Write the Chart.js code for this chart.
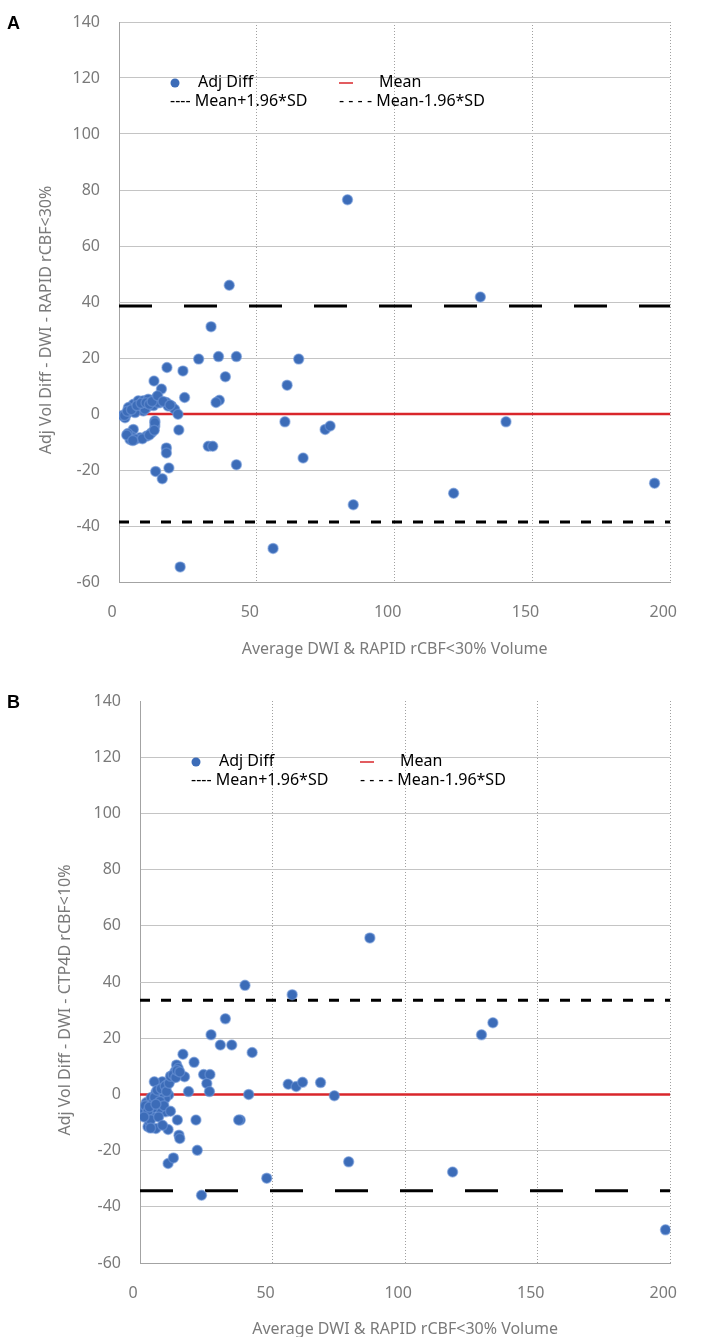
<!DOCTYPE html>
<html>
<head>
<meta charset="utf-8">
<script src="https://cdn.jsdelivr.net/npm/chart.js@4.4.0/dist/chart.umd.min.js"></script>
<style>
html, body { margin: 0; padding: 0; background: #fff; overflow: hidden; }
#page { position: relative; width: 705px; height: 1337px; overflow: hidden; }
.panel { position: absolute; left: 0; width: 705px; }
.tag { position: absolute; left: 7px; font: bold 18px "Liberation Sans", Arial, sans-serif; line-height: 18px; color: #000; }
</style>
</head>
<body>
<div id="page">
    <div class="panel" style="top:0;height:668px"><canvas id="chart-a" width="705" height="668"></canvas></div>
    <div class="panel" style="top:668px;height:690px"><canvas id="chart-b" width="705" height="690"></canvas></div>
    <div class="tag" style="top:14px">A</div>
    <div class="tag" style="top:693px">B</div>
</div>
<script>
// Bland-Altman style plots, panel A (RAPID) and panel B (CTP4D)

const xMin = 0, xMax = 200, xStep = 50;
const yMin = -60, yMax = 140, yStep = 20;

const xTitle = 'Average DWI & RAPID rCBF<30% Volume';
const yTitleA = 'Adj Vol Diff - DWI - RAPID rCBF<30%';
const yTitleB = 'Adj Vol Diff - DWI - CTP4D rCBF<10%';
const legendLabels = ['Adj Diff', 'Mean', '---- Mean+1.96*SD', '- - - - Mean-1.96*SD'];

// panel A: average volume (x) and adjusted difference (y)
const aAvg = [82.9, 40.0, 131.1, 33.4, 28.9, 36.1, 42.6, 65.2, 17.4, 23.2,
    38.6, 12.7, 61.0, 15.4, 23.8, 36.4, 35.2, 60.2, 140.4, 21.7,
    32.4, 34.0, 42.6, 66.8, 74.8, 76.6, 85.0, 121.4, 194.3, 55.9,
    22.2, 17.2, 17.2, 18.1, 13.3, 15.7, 2.2, 4.0, 7.6, 10.0,
    11.8, 13.0, 13.0, 5.2, 4.5, 4.0, 5.2, 7.0, 8.8, 10.0,
    8.8, 11.8, 13.6, 14.8, 17.2, 19.0, 20.2, 21.4, 2.8, 1.2,
    6.0, 9.5, 12.5, 3.2, 3.4, 10.6, 14.2, 17.8, 5.8, 9.4,
    13.0, 2.0, 3.0, 4.5, 6.5, 8.0, 9.8, 11.0, 12.0, 14.0,
    16.0, 18.5, 6.0, 8.5, 11.0, 12.8, 2.8, 5.0];
const aDiff = [76.5, 46.0, 41.8, 31.2, 19.6, 20.5, 20.5, 19.6, 16.6, 15.4,
    13.3, 11.8, 10.3, 8.9, 5.9, 4.9, 4.1, -2.8, -2.8, -5.7,
    -11.5, -11.5, -18.1, -15.7, -5.5, -4.3, -32.4, -28.3, -24.7, -48.0,
    -54.6, -12.1, -13.9, -19.3, -20.5, -23.1, -1.3, -9.1, -8.5, -7.9,
    -6.7, -4.3, -2.5, -5.5, -8.0, 2.3, 3.5, 4.7, 4.7, 2.3,
    1.1, 4.7, 5.9, 4.0, 4.1, 2.9, 1.7, -0.1, 0.0, -0.5,
    2.0, 3.5, 3.0, -7.0, 2.3, 5.3, 4.1, 2.9, 0.5, 1.7,
    -3.1, -0.5, 1.0, 1.5, 3.0, 3.8, 4.0, 3.5, 4.5, 6.5,
    4.5, 3.2, -9.0, -8.8, -7.5, -5.8, -7.5, -9.5];
const aMean = 0, aUpper = 38.6, aLower = -38.6;

// panel B
const bAvg = [86.7, 39.6, 57.4, 32.2, 128.8, 133.1, 26.8, 30.3, 34.6, 42.3,
    16.2, 20.4, 13.8, 24.0, 26.4, 25.2, 26.2, 16.8, 18.3, 41.0,
    37.8, 37.2, 21.1, 14.1, 14.7, 15.0, 21.6, 10.6, 12.6, 47.8,
    23.2, 68.1, 73.3, 55.9, 58.9, 61.3, 78.7, 117.9, 198.2, 1.2,
    3.0, 6.0, 10.6, 9.6, 4.2, 2.4, 4.2, 6.0, 7.2, 8.4,
    10.2, 10.8, 12.0, 13.2, 14.4, 6.6, 7.2, 4.8, 9.6, 8.4,
    3.6, 5.4, 2.4, 1.8, 2.0, 3.0, 4.0, 5.0, 5.5, 6.5,
    7.5, 8.0, 9.0, 9.5, 10.0, 11.0, 11.5, 12.5, 13.5, 14.0,
    15.0, 4.0, 7.0, 8.5, 11.5, 1.5, 3.5, 6.0];
const bDiff = [55.7, 38.8, 35.5, 26.9, 21.2, 25.5, 21.2, 17.6, 17.6, 14.9,
    14.3, 11.4, 10.5, 7.1, 7.1, 3.9, 1.0, 6.3, 1.0, 0.0,
    -9.1, -9.1, -9.1, -9.1, -14.5, -15.7, -19.9, -24.6, -22.6, -29.8,
    -35.9, 4.2, -0.5, 3.6, 2.8, 4.3, -24.0, -27.6, -48.2, -6.2,
    -11.5, -12.1, -12.5, -6.2, -7.4, -2.9, -1.1, 0.7, 3.4, 4.5,
    3.4, -0.2, 5.7, 8.1, 9.3, -1.4, -5.0, -4.8, -1.4, 0.7,
    -9.8, 4.5, -6.2, -6.2, -4.0, -6.0, -9.0, -3.0, -1.0, 1.5,
    -2.5, 2.0, -4.0, 3.0, 1.0, 4.0, 6.5, 7.0, 6.0, 8.5,
    8.0, -12.0, -8.0, -11.0, -6.0, -8.0, -4.5, -3.5];
const bMean = 0, bUpper = 33.5, bLower = -34.3;

const pointColor = '#3c6cb8';
const meanColor = '#d9262b';
const tickColor = '#7a7a7a';
const gridColor = '#c4c4c4';
const axisColor = '#a3a3a3';
const fontFamily = '"Noto Sans", sans-serif';

// draws the text legend and the rotated y title
const baLegend = {
    id: 'baLegend',
    afterDraw(chart, args, opts) {
        const { ctx, chartArea: ca } = chart;
        const x0 = ca.left, y0 = ca.top;
        ctx.save();
        ctx.font = '16px ' + fontFamily;
        ctx.textBaseline = 'middle';
        ctx.textAlign = 'left';

        ctx.beginPath();
        ctx.arc(x0 + 56, y0 + 61, 4.5, 0, Math.PI * 2);
        ctx.fillStyle = pointColor;
        ctx.fill();

        ctx.fillStyle = '#000';
        ctx.fillText(legendLabels[0], x0 + 79, y0 + 60);

        ctx.strokeStyle = meanColor;
        ctx.lineWidth = 1.5;
        ctx.beginPath();
        ctx.moveTo(x0 + 220, y0 + 61);
        ctx.lineTo(x0 + 234, y0 + 61);
        ctx.stroke();

        ctx.fillText(legendLabels[1], x0 + 260, y0 + 60);
        ctx.fillText(legendLabels[2], x0 + 51, y0 + 79.5);
        ctx.fillText(legendLabels[3], x0 + 220, y0 + 79);

        // y axis title
        ctx.translate(opts.titleX, opts.titleY);
        ctx.rotate(-Math.PI / 2);
        ctx.textAlign = 'center';
        ctx.fillStyle = tickColor;
        ctx.fillText(opts.yTitle, 0, 0);
        ctx.restore();
    }
};

function hline(v) {
    return [{ x: xMin, y: v }, { x: xMax, y: v }];
}

function buildChart(id, cfg) {
    const pts = cfg.avg.map((v, i) => ({ x: v, y: cfg.diff[i] }));
    const font = { family: fontFamily, size: 16 };
    const chart = new Chart(document.getElementById(id), {
        type: 'scatter',
        data: {
            datasets: [
                {
                    label: legendLabels[0],
                    data: pts,
                    backgroundColor: pointColor,
                    borderColor: 'rgba(110,150,215,0.55)',
                    borderWidth: 1.5,
                    pointRadius: 5,
                    pointHoverRadius: 5
                },
                {
                    label: legendLabels[1],
                    data: hline(cfg.mean),
                    showLine: true,
                    borderColor: meanColor,
                    borderWidth: 2.5,
                    pointRadius: 0
                },
                {
                    label: legendLabels[2],
                    data: hline(cfg.upper),
                    showLine: true,
                    borderColor: '#000',
                    borderWidth: 3,
                    borderDash: cfg.upperDash,
                    pointRadius: 0
                },
                {
                    label: legendLabels[3],
                    data: hline(cfg.lower),
                    showLine: true,
                    borderColor: '#000',
                    borderWidth: 3,
                    borderDash: cfg.lowerDash,
                    pointRadius: 0
                }
            ]
        },
        options: {
            responsive: false,
            animation: false,
            devicePixelRatio: 1,
            layout: { padding: Object.assign({}, cfg.padding) },
            plugins: {
                legend: { display: false },
                tooltip: { enabled: false },
                baLegend: { yTitle: cfg.yTitle, titleX: cfg.titleX, titleY: cfg.titleY }
            },
            scales: {
                x: {
                    type: 'linear',
                    min: xMin,
                    max: xMax,
                    ticks: { stepSize: xStep, color: tickColor, font: font, padding: 21, labelOffset: -7 },
                    grid: {
                        drawTicks: false,
                        lineWidth: 1,
                        color: (c) => c.tick && c.tick.value === xMin ? 'rgba(0,0,0,0)' : '#a0a0a0'
                    },
                    border: { display: true, color: axisColor, dash: [1, 2] },
                    title: { display: true, text: xTitle, color: tickColor, font: font, padding: { top: 4, bottom: 4 } },
                    afterFit: (s) => { s.height = cfg.xAxisH; }
                },
                y: {
                    type: 'linear',
                    min: yMin,
                    max: yMax,
                    ticks: { stepSize: yStep, color: tickColor, font: font, padding: 19 },
                    grid: {
                        drawTicks: false,
                        lineWidth: 1,
                        color: (c) => (cfg.hideTop && c.tick && c.tick.value === yMax) ? 'rgba(0,0,0,0)' : gridColor
                    },
                    border: { display: true, color: axisColor },
                    afterFit: (s) => {
                        s.width = cfg.yAxisW;
                        // tick padding would otherwise push the plot top down
                        s.paddingTop = 0;
                        s.paddingBottom = 0;
                    }
                }
            }
        },
        plugins: [baLegend]
    });

    // nudge the padding so the plot area lands where the reference has it
    const ca = chart.chartArea;
    const p = cfg.padding;
    chart.options.layout.padding = {
        left: p.left,
        right: p.right,
        top: p.top + (cfg.areaTop - ca.top),
        bottom: p.bottom + (ca.bottom - cfg.areaBottom)
    };
    chart.update();
    return chart;
}

buildChart('chart-a', {
    avg: aAvg, diff: aDiff, mean: aMean, upper: aUpper, lower: aLower,
    upperDash: [33, 32], lowerDash: [10, 11],
    padding: { left: 0, right: 31, top: 22, bottom: 5 },
    areaTop: 22, areaBottom: 582,
    yAxisW: 119, xAxisH: 81,
    yTitle: yTitleA, titleX: 46, titleY: 320,
    hideTop: false
});

buildChart('chart-b', {
    avg: bAvg, diff: bDiff, mean: bMean, upper: bUpper, lower: bLower,
    upperDash: [10, 11], lowerDash: [33, 32],
    padding: { left: 0, right: 10, top: 33, bottom: 15 },
    areaTop: 33, areaBottom: 595,
    yAxisW: 140, xAxisH: 80,
    yTitle: yTitleB, titleX: 65, titleY: 332,
    hideTop: true
});
</script>
</body>
</html>
